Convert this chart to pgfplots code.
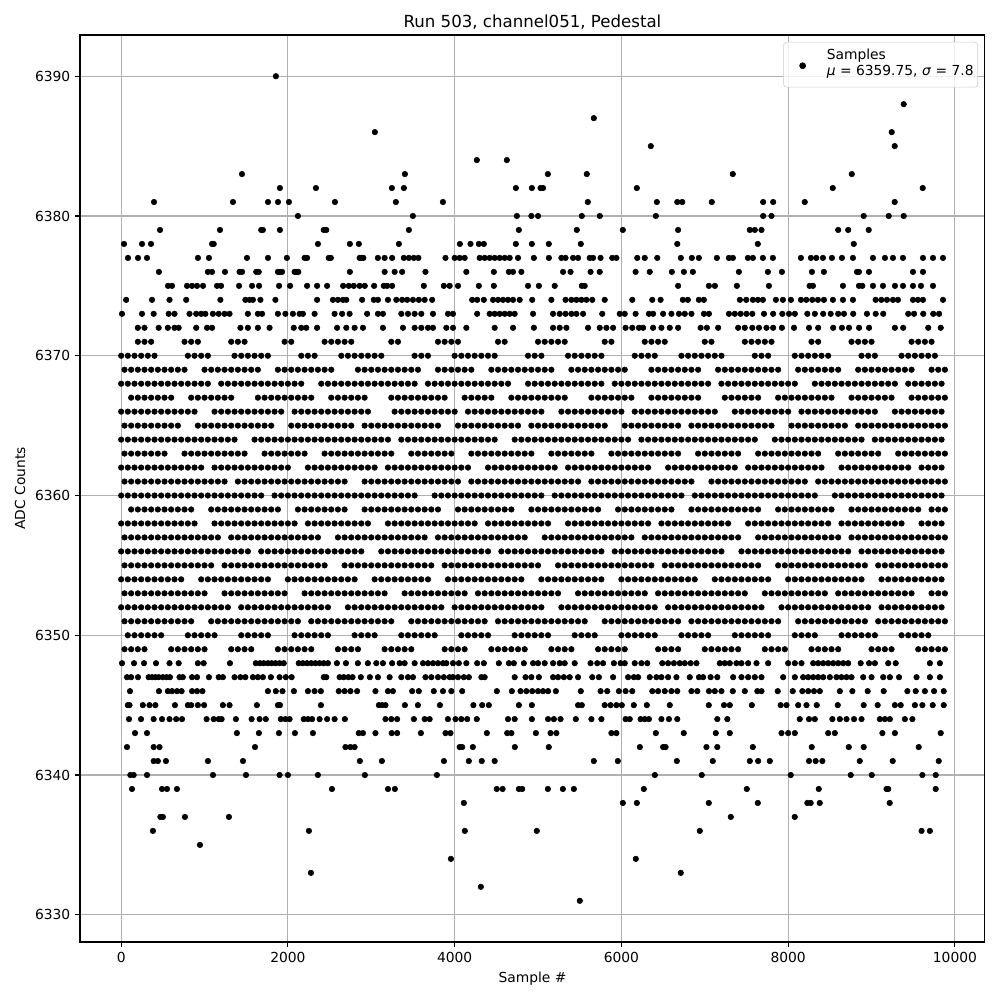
\documentclass[border=0pt]{standalone}
\usepackage{fontspec}
\setmainfont{DejaVu Sans}
\usepackage{pgfplots}
\pgfplotsset{compat=1.18}
\usepackage{pgfplotstable}
\pgfplotstableread{
x y
1856 6390
9386 6388
5669 6387
3043 6386
9242 6386
6353 6385
9278 6385
4266 6384
4626 6384
1449 6383
3403 6383
5118 6383
5585 6383
7336 6383
8763 6383
1904 6382
2336 6382
3247 6382
3391 6382
4734 6382
4926 6382
5030 6382
5060 6382
6185 6382
8535 6382
9614 6382
394 6381
1341 6381
1761 6381
1881 6381
2012 6381
2564 6381
3295 6381
3859 6381
5597 6381
6425 6381
6670 6381
6730 6381
7084 6381
7700 6381
7820 6381
8199 6381
9278 6381
2120 6380
3499 6380
4746 6380
4920 6380
5000 6380
5525 6380
5741 6380
6413 6380
7700 6380
7800 6380
8906 6380
9206 6380
9386 6380
466 6379
1185 6379
1680 6379
1700 6379
1904 6379
2430 6379
2460 6379
3451 6379
4770 6379
5465 6379
6017 6379
6680 6379
7540 6379
7600 6379
7680 6379
8600 6379
8720 6379
8966 6379
34 6378
250 6378
358 6378
1090 6378
1110 6378
2360 6378
2743 6378
2851 6378
3331 6378
4063 6378
4190 6378
4290 6378
4350 6378
4734 6378
4926 6378
5129 6378
5513 6378
6670 6378
7636 6378
8787 6378
82 6377
202 6377
310 6377
921 6377
1053 6377
1509 6377
1761 6377
1988 6377
2200 6377
2230 6377
2490 6377
2515 6377
2860 6377
2880 6377
2905 6377
3079 6377
3160 6377
3250 6377
3390 6377
3450 6377
3510 6377
3565 6377
3890 6377
4000 6377
4060 6377
4120 6377
4300 6377
4360 6377
4420 6377
4480 6377
4540 6377
4600 6377
4660 6377
4760 6377
4950 6377
5130 6377
5280 6377
5330 6377
5420 6377
5480 6377
5620 6377
5660 6377
5750 6377
5890 6377
5940 6377
6190 6377
6280 6377
6430 6377
6713 6377
6845 6377
6929 6377
7145 6377
7289 6377
7337 6377
7517 6377
7577 6377
7697 6377
7817 6377
8153 6377
8273 6377
8337 6377
8417 6377
8525 6377
8645 6377
8777 6377
9017 6377
9161 6377
9257 6377
9377 6377
9617 6377
9737 6377
9857 6377
453 6376
1040 6376
1090 6376
1245 6376
1420 6376
1450 6376
1620 6376
1650 6376
1880 6376
1905 6376
1930 6376
2080 6376
2100 6376
2125 6376
2743 6376
3160 6376
3280 6376
3370 6376
3650 6376
4140 6376
4470 6376
4650 6376
4700 6376
4800 6376
5300 6376
5390 6376
5630 6376
5740 6376
6170 6376
6340 6376
6605 6376
6749 6376
6857 6376
7409 6376
7757 6376
7925 6376
8285 6376
8429 6376
8825 6376
8849 6376
8969 6376
9497 6376
9617 6376
562 6375
610 6375
790 6375
850 6375
910 6375
982 6375
1150 6375
1198 6375
1414 6375
1570 6375
1654 6375
1894 6375
2026 6375
2230 6375
2350 6375
2470 6375
2662 6375
2730 6375
2790 6375
2860 6375
2922 6375
3034 6375
3150 6375
3190 6375
3250 6375
3630 6375
3870 6375
3940 6375
4040 6375
4290 6375
4470 6375
4880 6375
5010 6375
5200 6375
5525 6375
5560 6375
6680 6375
7049 6375
7121 6375
7385 6375
7769 6375
8257 6375
8297 6375
8657 6375
8849 6375
8889 6375
9017 6375
9137 6375
9281 6375
9377 6375
9497 6375
9593 6375
9737 6375
60 6374
370 6374
580 6374
780 6374
1190 6374
1490 6374
1540 6374
1580 6374
1670 6374
1850 6374
2350 6374
2540 6374
2600 6374
2660 6374
2700 6374
2890 6374
3030 6374
3080 6374
3200 6374
3300 6374
3370 6374
3430 6374
3500 6374
3570 6374
3640 6374
3730 6374
4210 6374
4270 6374
4350 6374
4460 6374
4520 6374
4580 6374
4640 6374
4700 6374
4780 6374
4930 6374
5160 6374
5330 6374
5400 6374
5460 6374
5520 6374
5580 6374
5650 6374
5800 6374
6130 6374
6370 6374
6470 6374
6737 6374
6797 6374
6929 6374
6989 6374
7421 6374
7497 6374
7577 6374
7637 6374
7697 6374
7853 6374
7937 6374
8033 6374
8153 6374
8217 6374
8289 6374
8357 6374
8429 6374
8537 6374
8657 6374
8777 6374
9049 6374
9117 6374
9185 6374
9257 6374
9317 6374
9497 6374
9557 6374
9617 6374
9857 6374
10 6373
250 6373
390 6373
570 6373
640 6373
820 6373
900 6373
960 6373
1010 6373
1100 6373
1170 6373
1240 6373
1300 6373
1520 6373
1640 6373
1690 6373
1880 6373
1970 6373
2060 6373
2140 6373
2180 6373
2320 6373
2560 6373
2650 6373
2740 6373
2950 6373
3080 6373
3140 6373
3360 6373
3440 6373
3520 6373
3600 6373
3740 6373
3920 6373
3980 6373
4270 6373
4420 6373
4480 6373
4540 6373
4600 6373
4660 6373
4720 6373
4940 6373
5180 6373
5260 6373
5330 6373
5400 6373
5460 6373
5540 6373
5770 6373
5980 6373
6040 6373
6170 6373
6330 6373
6380 6373
6500 6373
6600 6373
6690 6373
6760 6373
6840 6373
6990 6373
7050 6373
7290 6373
7360 6373
7430 6373
7500 6373
7570 6373
7710 6373
7820 6373
7930 6373
8010 6373
8080 6373
8230 6373
8320 6373
8420 6373
8510 6373
8600 6373
8670 6373
8780 6373
8945 6373
9050 6373
9140 6373
9440 6373
9510 6373
9620 6373
9740 6373
9810 6373
200 6372
280 6372
450 6372
560 6372
640 6372
690 6372
900 6372
1030 6372
1090 6372
1430 6372
1520 6372
1640 6372
1780 6372
2070 6372
2160 6372
2220 6372
2350 6372
2590 6372
2700 6372
2800 6372
2900 6372
3140 6372
3380 6372
3520 6372
3600 6372
3680 6372
3740 6372
3900 6372
3980 6372
4140 6372
4480 6372
4700 6372
4950 6372
5180 6372
5260 6372
5340 6372
5600 6372
5740 6372
5820 6372
5900 6372
6050 6372
6130 6372
6210 6372
6260 6372
6380 6372
6480 6372
6580 6372
6680 6372
6950 6372
7025 6372
7160 6372
7400 6372
7480 6372
7570 6372
7650 6372
7740 6372
7820 6372
7925 6372
8070 6372
8250 6372
8360 6372
8540 6372
8645 6372
8730 6372
8850 6372
8970 6372
9280 6372
9380 6372
9680 6372
9830 6372
}\sparsetop
\pgfplotstableread{
x y
200 6371
280 6371
360 6371
760 6371
840 6371
920 6371
1320 6371
1400 6371
1480 6371
1960 6371
2040 6371
2440 6371
2520 6371
2600 6371
2680 6371
2760 6371
3240 6371
3320 6371
3800 6371
3880 6371
3960 6371
4040 6371
4520 6371
4600 6371
5000 6371
5080 6371
5160 6371
5240 6371
5320 6371
5800 6371
5880 6371
6280 6371
6360 6371
6440 6371
6520 6371
7000 6371
7080 6371
7480 6371
7560 6371
7640 6371
7720 6371
7800 6371
8280 6371
8360 6371
8760 6371
8840 6371
8920 6371
9000 6371
9480 6371
9560 6371
9640 6371
9720 6371
0 6370
80 6370
160 6370
240 6370
320 6370
400 6370
800 6370
880 6370
960 6370
1040 6370
1360 6370
1440 6370
1520 6370
1600 6370
1680 6370
1760 6370
2160 6370
2240 6370
2320 6370
2640 6370
2720 6370
2800 6370
2880 6370
2960 6370
3040 6370
3120 6370
3520 6370
3600 6370
3680 6370
4000 6370
4080 6370
4160 6370
4240 6370
4320 6370
4400 6370
4480 6370
4880 6370
4960 6370
5040 6370
5360 6370
5440 6370
5520 6370
5600 6370
5680 6370
5760 6370
6160 6370
6240 6370
6320 6370
6400 6370
6720 6370
6800 6370
6880 6370
6960 6370
7040 6370
7120 6370
7200 6370
7600 6370
7680 6370
7760 6370
8080 6370
8160 6370
8240 6370
8320 6370
8400 6370
8480 6370
8880 6370
8960 6370
9040 6370
9360 6370
9440 6370
9520 6370
9600 6370
9680 6370
9760 6370
40 6369
120 6369
200 6369
280 6369
360 6369
440 6369
520 6369
600 6369
680 6369
760 6369
1000 6369
1080 6369
1160 6369
1240 6369
1320 6369
1400 6369
1480 6369
1560 6369
1640 6369
1880 6369
1960 6369
2040 6369
2120 6369
2200 6369
2280 6369
2360 6369
2440 6369
2520 6369
2840 6369
2920 6369
3000 6369
3080 6369
3160 6369
3240 6369
3320 6369
3400 6369
3480 6369
3560 6369
3800 6369
3880 6369
3960 6369
4040 6369
4120 6369
4200 6369
4440 6369
4520 6369
4600 6369
4680 6369
4760 6369
4840 6369
4920 6369
5000 6369
5080 6369
5160 6369
5400 6369
5480 6369
5560 6369
5640 6369
5720 6369
5800 6369
5880 6369
5960 6369
6040 6369
6360 6369
6440 6369
6520 6369
6600 6369
6680 6369
6760 6369
6840 6369
6920 6369
7160 6369
7240 6369
7320 6369
7400 6369
7480 6369
7560 6369
7640 6369
7720 6369
7800 6369
7880 6369
8120 6369
8200 6369
8280 6369
8360 6369
8440 6369
8520 6369
8600 6369
8840 6369
8920 6369
9000 6369
9080 6369
9160 6369
9240 6369
9320 6369
9400 6369
9480 6369
9720 6369
9800 6369
9880 6369
0 6368
80 6368
160 6368
240 6368
320 6368
400 6368
480 6368
560 6368
640 6368
720 6368
800 6368
880 6368
960 6368
1040 6368
1200 6368
1280 6368
1360 6368
1440 6368
1520 6368
1600 6368
1680 6368
1760 6368
1840 6368
1920 6368
2000 6368
2080 6368
2160 6368
2400 6368
2480 6368
2560 6368
2640 6368
2720 6368
2800 6368
2880 6368
2960 6368
3040 6368
3120 6368
3200 6368
3280 6368
3360 6368
3440 6368
3520 6368
3680 6368
3760 6368
3840 6368
3920 6368
4000 6368
4080 6368
4160 6368
4240 6368
4320 6368
4400 6368
4480 6368
4560 6368
4640 6368
4880 6368
4960 6368
5040 6368
5120 6368
5200 6368
5280 6368
5360 6368
5440 6368
5520 6368
5600 6368
5680 6368
5760 6368
5920 6368
6000 6368
6080 6368
6160 6368
6240 6368
6320 6368
6400 6368
6480 6368
6560 6368
6640 6368
6720 6368
6800 6368
6880 6368
6960 6368
7040 6368
7200 6368
7280 6368
7360 6368
7440 6368
7520 6368
7600 6368
7680 6368
7760 6368
7840 6368
7920 6368
8000 6368
8080 6368
8320 6368
8400 6368
8480 6368
8560 6368
8640 6368
8720 6368
8800 6368
8880 6368
8960 6368
9040 6368
9120 6368
9200 6368
9280 6368
9440 6368
9520 6368
9600 6368
9680 6368
9760 6368
9840 6368
120 6367
200 6367
280 6367
360 6367
440 6367
520 6367
600 6367
840 6367
920 6367
1000 6367
1080 6367
1160 6367
1240 6367
1320 6367
1640 6367
1720 6367
1800 6367
1880 6367
1960 6367
2040 6367
2120 6367
2200 6367
2280 6367
2520 6367
2600 6367
2680 6367
2760 6367
2840 6367
2920 6367
3240 6367
3320 6367
3400 6367
3480 6367
3560 6367
3640 6367
3720 6367
3800 6367
3880 6367
4120 6367
4200 6367
4280 6367
4360 6367
4440 6367
4680 6367
4760 6367
4840 6367
4920 6367
5000 6367
5080 6367
5160 6367
5240 6367
5320 6367
5640 6367
5720 6367
5800 6367
5880 6367
5960 6367
6040 6367
6120 6367
6360 6367
6440 6367
6520 6367
6600 6367
6680 6367
6760 6367
6840 6367
6920 6367
7240 6367
7320 6367
7400 6367
7480 6367
7560 6367
7640 6367
7880 6367
7960 6367
8040 6367
8120 6367
8200 6367
8280 6367
8360 6367
8440 6367
8520 6367
8760 6367
8840 6367
8920 6367
9000 6367
9080 6367
9160 6367
9240 6367
9480 6367
9560 6367
9640 6367
9720 6367
9800 6367
9880 6367
0 6366
80 6366
160 6366
240 6366
320 6366
400 6366
480 6366
560 6366
640 6366
720 6366
800 6366
880 6366
1120 6366
1200 6366
1280 6366
1360 6366
1440 6366
1520 6366
1600 6366
1680 6366
1760 6366
1840 6366
1920 6366
2080 6366
2160 6366
2240 6366
2320 6366
2400 6366
2480 6366
2560 6366
2640 6366
2720 6366
2800 6366
2880 6366
2960 6366
3280 6366
3360 6366
3440 6366
3520 6366
3600 6366
3680 6366
3760 6366
3840 6366
3920 6366
4000 6366
4160 6366
4240 6366
4320 6366
4400 6366
4480 6366
4560 6366
4640 6366
4720 6366
4800 6366
4880 6366
4960 6366
5040 6366
5280 6366
5360 6366
5440 6366
5520 6366
5600 6366
5680 6366
5760 6366
5840 6366
5920 6366
6000 6366
6160 6366
6240 6366
6320 6366
6400 6366
6480 6366
6560 6366
6640 6366
6720 6366
6800 6366
6880 6366
6960 6366
7040 6366
7120 6366
7360 6366
7440 6366
7520 6366
7600 6366
7680 6366
7760 6366
7840 6366
7920 6366
8000 6366
8160 6366
8240 6366
8320 6366
8400 6366
8480 6366
8560 6366
8640 6366
8720 6366
8800 6366
8880 6366
8960 6366
9040 6366
9280 6366
9360 6366
9440 6366
9520 6366
9600 6366
9680 6366
9760 6366
9840 6366
40 6365
120 6365
200 6365
280 6365
360 6365
440 6365
520 6365
600 6365
680 6365
920 6365
1000 6365
1080 6365
1160 6365
1240 6365
1320 6365
1400 6365
1480 6365
1560 6365
1640 6365
1720 6365
1800 6365
2040 6365
2120 6365
2200 6365
2280 6365
2360 6365
2440 6365
2520 6365
2600 6365
2680 6365
2760 6365
2920 6365
3000 6365
3080 6365
3160 6365
3240 6365
3320 6365
3400 6365
3480 6365
3560 6365
3640 6365
3720 6365
3800 6365
4040 6365
4120 6365
4200 6365
4280 6365
4360 6365
4440 6365
4520 6365
4600 6365
4680 6365
4760 6365
4920 6365
5000 6365
5080 6365
5160 6365
5240 6365
5320 6365
5400 6365
5480 6365
5560 6365
5640 6365
5720 6365
5800 6365
6040 6365
6120 6365
6200 6365
6280 6365
6360 6365
6440 6365
6520 6365
6600 6365
6680 6365
6840 6365
6920 6365
7000 6365
7080 6365
7160 6365
7240 6365
7320 6365
7400 6365
7480 6365
7560 6365
7640 6365
7720 6365
7800 6365
8040 6365
8120 6365
8200 6365
8280 6365
8360 6365
8440 6365
8520 6365
8600 6365
8680 6365
8840 6365
8920 6365
9000 6365
9080 6365
9160 6365
9240 6365
9320 6365
9400 6365
9480 6365
9560 6365
9640 6365
9720 6365
9800 6365
9880 6365
}\densetop
\pgfplotstableread{
x y
0 6364
80 6364
160 6364
240 6364
320 6364
400 6364
480 6364
560 6364
640 6364
720 6364
800 6364
880 6364
960 6364
1040 6364
1120 6364
1200 6364
1280 6364
1360 6364
1600 6364
1680 6364
1760 6364
1840 6364
1920 6364
2000 6364
2080 6364
2160 6364
2240 6364
2320 6364
2400 6364
2480 6364
2560 6364
2640 6364
2720 6364
2800 6364
2880 6364
2960 6364
3040 6364
3120 6364
3200 6364
3360 6364
3440 6364
3520 6364
3600 6364
3680 6364
3760 6364
3840 6364
3920 6364
4000 6364
4080 6364
4160 6364
4240 6364
4320 6364
4400 6364
4480 6364
4720 6364
4800 6364
4880 6364
4960 6364
5040 6364
5120 6364
5200 6364
5280 6364
5360 6364
5440 6364
5520 6364
5600 6364
5680 6364
5760 6364
5840 6364
5920 6364
6000 6364
6080 6364
6240 6364
6320 6364
6400 6364
6480 6364
6560 6364
6640 6364
6720 6364
6800 6364
6880 6364
6960 6364
7040 6364
7120 6364
7200 6364
7280 6364
7360 6364
7440 6364
7520 6364
7600 6364
7840 6364
7920 6364
8000 6364
8080 6364
8160 6364
8240 6364
8320 6364
8400 6364
8480 6364
8560 6364
8640 6364
8720 6364
8800 6364
8880 6364
9040 6364
9120 6364
9200 6364
9280 6364
9360 6364
9440 6364
9520 6364
9600 6364
9680 6364
9760 6364
9840 6364
40 6363
120 6363
200 6363
280 6363
360 6363
440 6363
520 6363
760 6363
840 6363
920 6363
1000 6363
1080 6363
1160 6363
1240 6363
1320 6363
1400 6363
1480 6363
1720 6363
1800 6363
1880 6363
1960 6363
2040 6363
2120 6363
2200 6363
2440 6363
2520 6363
2600 6363
2680 6363
2760 6363
2840 6363
2920 6363
3000 6363
3080 6363
3160 6363
3240 6363
3480 6363
3560 6363
3640 6363
3720 6363
3800 6363
3880 6363
3960 6363
4200 6363
4280 6363
4360 6363
4440 6363
4520 6363
4600 6363
4680 6363
4760 6363
4840 6363
4920 6363
5160 6363
5240 6363
5320 6363
5400 6363
5480 6363
5560 6363
5640 6363
5880 6363
5960 6363
6040 6363
6120 6363
6200 6363
6280 6363
6360 6363
6440 6363
6520 6363
6600 6363
6680 6363
6920 6363
7000 6363
7080 6363
7160 6363
7240 6363
7320 6363
7400 6363
7640 6363
7720 6363
7800 6363
7880 6363
7960 6363
8040 6363
8120 6363
8200 6363
8280 6363
8360 6363
8600 6363
8680 6363
8760 6363
8840 6363
8920 6363
9000 6363
9080 6363
9320 6363
9400 6363
9480 6363
9560 6363
9640 6363
9720 6363
9800 6363
9880 6363
0 6362
80 6362
160 6362
240 6362
320 6362
400 6362
480 6362
560 6362
640 6362
720 6362
800 6362
880 6362
960 6362
1120 6362
1200 6362
1280 6362
1360 6362
1440 6362
1520 6362
1600 6362
1680 6362
1760 6362
1840 6362
1920 6362
2000 6362
2240 6362
2320 6362
2400 6362
2480 6362
2560 6362
2640 6362
2720 6362
2800 6362
2880 6362
2960 6362
3040 6362
3200 6362
3280 6362
3360 6362
3440 6362
3520 6362
3600 6362
3680 6362
3760 6362
3840 6362
3920 6362
4000 6362
4080 6362
4160 6362
4400 6362
4480 6362
4560 6362
4640 6362
4720 6362
4800 6362
4880 6362
4960 6362
5040 6362
5120 6362
5200 6362
5360 6362
5440 6362
5520 6362
5600 6362
5680 6362
5760 6362
5840 6362
5920 6362
6000 6362
6080 6362
6160 6362
6240 6362
6320 6362
6560 6362
6640 6362
6720 6362
6800 6362
6880 6362
6960 6362
7040 6362
7120 6362
7200 6362
7280 6362
7360 6362
7520 6362
7600 6362
7680 6362
7760 6362
7840 6362
7920 6362
8000 6362
8080 6362
8160 6362
8240 6362
8320 6362
8400 6362
8640 6362
8720 6362
8800 6362
8880 6362
8960 6362
9040 6362
9120 6362
9200 6362
9280 6362
9360 6362
9440 6362
9600 6362
9680 6362
9760 6362
9840 6362
40 6361
120 6361
200 6361
280 6361
360 6361
440 6361
520 6361
600 6361
680 6361
760 6361
840 6361
920 6361
1000 6361
1080 6361
1160 6361
1240 6361
1400 6361
1480 6361
1560 6361
1640 6361
1720 6361
1800 6361
1880 6361
1960 6361
2040 6361
2120 6361
2200 6361
2280 6361
2360 6361
2440 6361
2520 6361
2600 6361
2680 6361
2920 6361
3000 6361
3080 6361
3160 6361
3240 6361
3320 6361
3400 6361
3480 6361
3560 6361
3640 6361
3720 6361
3800 6361
3880 6361
3960 6361
4040 6361
4200 6361
4280 6361
4360 6361
4440 6361
4520 6361
4600 6361
4680 6361
4760 6361
4840 6361
4920 6361
5000 6361
5080 6361
5160 6361
5240 6361
5320 6361
5400 6361
5480 6361
5640 6361
5720 6361
5800 6361
5880 6361
5960 6361
6040 6361
6120 6361
6200 6361
6280 6361
6360 6361
6440 6361
6520 6361
6600 6361
6680 6361
6760 6361
6840 6361
7080 6361
7160 6361
7240 6361
7320 6361
7400 6361
7480 6361
7560 6361
7640 6361
7720 6361
7800 6361
7880 6361
7960 6361
8040 6361
8120 6361
8200 6361
8360 6361
8440 6361
8520 6361
8600 6361
8680 6361
8760 6361
8840 6361
8920 6361
9000 6361
9080 6361
9160 6361
9240 6361
9320 6361
9400 6361
9480 6361
9560 6361
9640 6361
9720 6361
9800 6361
9880 6361
0 6360
80 6360
160 6360
240 6360
320 6360
400 6360
480 6360
560 6360
640 6360
720 6360
800 6360
880 6360
960 6360
1040 6360
1120 6360
1200 6360
1280 6360
1360 6360
1440 6360
1520 6360
1600 6360
1680 6360
1840 6360
1920 6360
2000 6360
2080 6360
2160 6360
2240 6360
2320 6360
2400 6360
2480 6360
2560 6360
2640 6360
2720 6360
2800 6360
2880 6360
2960 6360
3040 6360
3120 6360
3200 6360
3280 6360
3360 6360
3440 6360
3520 6360
3760 6360
3840 6360
3920 6360
4000 6360
4080 6360
4160 6360
4240 6360
4320 6360
4400 6360
4480 6360
4560 6360
4640 6360
4720 6360
4800 6360
4880 6360
4960 6360
5040 6360
5200 6360
5280 6360
5360 6360
5440 6360
5520 6360
5600 6360
5680 6360
5760 6360
5840 6360
5920 6360
6000 6360
6080 6360
6160 6360
6240 6360
6320 6360
6400 6360
6480 6360
6560 6360
6640 6360
6720 6360
6880 6360
6960 6360
7040 6360
7120 6360
7200 6360
7280 6360
7360 6360
7440 6360
7520 6360
7600 6360
7680 6360
7760 6360
7840 6360
7920 6360
8000 6360
8080 6360
8160 6360
8240 6360
8320 6360
8560 6360
8640 6360
8720 6360
8800 6360
8880 6360
8960 6360
9040 6360
9120 6360
9200 6360
9280 6360
9360 6360
9440 6360
9520 6360
9600 6360
9680 6360
9760 6360
9840 6360
120 6359
200 6359
280 6359
360 6359
440 6359
520 6359
600 6359
680 6359
760 6359
840 6359
1080 6359
1160 6359
1240 6359
1320 6359
1400 6359
1480 6359
1560 6359
1640 6359
1720 6359
1800 6359
1880 6359
2120 6359
2200 6359
2280 6359
2360 6359
2440 6359
2520 6359
2600 6359
2680 6359
2920 6359
3000 6359
3080 6359
3160 6359
3240 6359
3320 6359
3400 6359
3480 6359
3560 6359
3640 6359
3720 6359
3800 6359
4040 6359
4120 6359
4200 6359
4280 6359
4360 6359
4440 6359
4520 6359
4600 6359
4680 6359
4920 6359
5000 6359
5080 6359
5160 6359
5240 6359
5320 6359
5400 6359
5480 6359
5560 6359
5640 6359
5720 6359
5960 6359
6040 6359
6120 6359
6200 6359
6280 6359
6360 6359
6440 6359
6520 6359
6600 6359
6840 6359
6920 6359
7000 6359
7080 6359
7160 6359
7240 6359
7320 6359
7400 6359
7480 6359
7560 6359
7640 6359
7880 6359
7960 6359
8040 6359
8120 6359
8200 6359
8280 6359
8360 6359
8440 6359
8520 6359
8760 6359
8840 6359
8920 6359
9000 6359
9080 6359
9160 6359
9240 6359
9320 6359
9400 6359
9480 6359
9560 6359
9720 6359
9800 6359
9880 6359
0 6358
80 6358
160 6358
240 6358
320 6358
400 6358
480 6358
560 6358
640 6358
720 6358
800 6358
880 6358
1120 6358
1200 6358
1280 6358
1360 6358
1440 6358
1520 6358
1600 6358
1680 6358
1760 6358
1840 6358
1920 6358
2000 6358
2080 6358
2240 6358
2320 6358
2400 6358
2480 6358
2560 6358
2640 6358
2720 6358
2800 6358
2880 6358
2960 6358
3200 6358
3280 6358
3360 6358
3440 6358
3520 6358
3600 6358
3680 6358
3760 6358
3840 6358
3920 6358
4000 6358
4080 6358
4160 6358
4240 6358
4400 6358
4480 6358
4560 6358
4640 6358
4720 6358
4800 6358
4880 6358
4960 6358
5040 6358
5120 6358
5360 6358
5440 6358
5520 6358
5600 6358
5680 6358
5760 6358
5840 6358
5920 6358
6000 6358
6080 6358
6160 6358
6240 6358
6320 6358
6480 6358
6560 6358
6640 6358
6720 6358
6800 6358
6880 6358
6960 6358
7040 6358
7120 6358
7200 6358
7280 6358
7520 6358
7600 6358
7680 6358
7760 6358
7840 6358
7920 6358
8000 6358
8080 6358
8160 6358
8240 6358
8320 6358
8400 6358
8480 6358
8640 6358
8720 6358
8800 6358
8880 6358
8960 6358
9040 6358
9120 6358
9200 6358
9280 6358
9360 6358
9600 6358
9680 6358
9760 6358
9840 6358
}\densemid
\pgfplotstableread{
x y
40 6357
120 6357
200 6357
280 6357
360 6357
440 6357
520 6357
600 6357
680 6357
760 6357
840 6357
920 6357
1000 6357
1080 6357
1160 6357
1320 6357
1400 6357
1480 6357
1560 6357
1640 6357
1720 6357
1800 6357
1880 6357
1960 6357
2040 6357
2120 6357
2200 6357
2280 6357
2360 6357
2600 6357
2680 6357
2760 6357
2840 6357
2920 6357
3000 6357
3080 6357
3160 6357
3240 6357
3320 6357
3400 6357
3480 6357
3560 6357
3640 6357
3800 6357
3880 6357
3960 6357
4040 6357
4120 6357
4200 6357
4280 6357
4360 6357
4440 6357
4520 6357
4600 6357
4680 6357
4760 6357
4840 6357
5080 6357
5160 6357
5240 6357
5320 6357
5400 6357
5480 6357
5560 6357
5640 6357
5720 6357
5800 6357
5880 6357
5960 6357
6040 6357
6120 6357
6280 6357
6360 6357
6440 6357
6520 6357
6600 6357
6680 6357
6760 6357
6840 6357
6920 6357
7000 6357
7080 6357
7160 6357
7240 6357
7320 6357
7400 6357
7640 6357
7720 6357
7800 6357
7880 6357
7960 6357
8040 6357
8120 6357
8200 6357
8280 6357
8360 6357
8440 6357
8520 6357
8600 6357
8760 6357
8840 6357
8920 6357
9000 6357
9080 6357
9160 6357
9240 6357
9320 6357
9400 6357
9480 6357
9560 6357
9640 6357
9720 6357
9800 6357
9880 6357
0 6356
80 6356
160 6356
240 6356
320 6356
400 6356
480 6356
560 6356
640 6356
720 6356
800 6356
880 6356
960 6356
1040 6356
1120 6356
1200 6356
1280 6356
1360 6356
1440 6356
1520 6356
1680 6356
1760 6356
1840 6356
1920 6356
2000 6356
2080 6356
2160 6356
2240 6356
2320 6356
2400 6356
2480 6356
2560 6356
2640 6356
2720 6356
2800 6356
2880 6356
3120 6356
3200 6356
3280 6356
3360 6356
3440 6356
3520 6356
3600 6356
3680 6356
3760 6356
3840 6356
3920 6356
4000 6356
4080 6356
4160 6356
4240 6356
4320 6356
4400 6356
4560 6356
4640 6356
4720 6356
4800 6356
4880 6356
4960 6356
5040 6356
5120 6356
5200 6356
5280 6356
5360 6356
5440 6356
5520 6356
5600 6356
5680 6356
5760 6356
5920 6356
6000 6356
6080 6356
6160 6356
6240 6356
6320 6356
6400 6356
6480 6356
6560 6356
6640 6356
6720 6356
6800 6356
6880 6356
6960 6356
7040 6356
7120 6356
7200 6356
7440 6356
7520 6356
7600 6356
7680 6356
7760 6356
7840 6356
7920 6356
8000 6356
8080 6356
8160 6356
8240 6356
8320 6356
8400 6356
8480 6356
8560 6356
8640 6356
8720 6356
8880 6356
8960 6356
9040 6356
9120 6356
9200 6356
9280 6356
9360 6356
9440 6356
9520 6356
9600 6356
9680 6356
9760 6356
9840 6356
40 6355
120 6355
200 6355
280 6355
360 6355
440 6355
520 6355
600 6355
680 6355
760 6355
840 6355
920 6355
1000 6355
1080 6355
1240 6355
1320 6355
1400 6355
1480 6355
1560 6355
1640 6355
1720 6355
1800 6355
1880 6355
1960 6355
2040 6355
2120 6355
2200 6355
2280 6355
2360 6355
2440 6355
2680 6355
2760 6355
2840 6355
2920 6355
3000 6355
3080 6355
3160 6355
3240 6355
3320 6355
3400 6355
3480 6355
3560 6355
3640 6355
3720 6355
3880 6355
3960 6355
4040 6355
4120 6355
4200 6355
4280 6355
4360 6355
4440 6355
4520 6355
4600 6355
4680 6355
4760 6355
4840 6355
4920 6355
5000 6355
5240 6355
5320 6355
5400 6355
5480 6355
5560 6355
5640 6355
5720 6355
5800 6355
5880 6355
5960 6355
6040 6355
6120 6355
6200 6355
6280 6355
6360 6355
6520 6355
6600 6355
6680 6355
6760 6355
6840 6355
6920 6355
7000 6355
7080 6355
7160 6355
7240 6355
7320 6355
7400 6355
7480 6355
7560 6355
7640 6355
7880 6355
7960 6355
8040 6355
8120 6355
8200 6355
8280 6355
8360 6355
8440 6355
8520 6355
8600 6355
8680 6355
8760 6355
8840 6355
8920 6355
9080 6355
9160 6355
9240 6355
9320 6355
9400 6355
9480 6355
9560 6355
9640 6355
9720 6355
9800 6355
9880 6355
0 6354
80 6354
160 6354
240 6354
320 6354
400 6354
480 6354
560 6354
640 6354
720 6354
960 6354
1040 6354
1120 6354
1200 6354
1280 6354
1360 6354
1440 6354
1520 6354
1600 6354
1680 6354
1760 6354
2000 6354
2080 6354
2160 6354
2240 6354
2320 6354
2400 6354
2480 6354
2560 6354
2640 6354
2720 6354
2800 6354
3040 6354
3120 6354
3200 6354
3280 6354
3360 6354
3440 6354
3520 6354
3600 6354
3680 6354
3920 6354
4000 6354
4080 6354
4160 6354
4240 6354
4320 6354
4400 6354
4480 6354
4560 6354
4640 6354
4720 6354
4800 6354
5040 6354
5120 6354
5200 6354
5280 6354
5360 6354
5440 6354
5520 6354
5600 6354
5680 6354
5760 6354
6000 6354
6080 6354
6160 6354
6240 6354
6320 6354
6400 6354
6480 6354
6560 6354
6640 6354
6720 6354
6800 6354
6880 6354
7120 6354
7200 6354
7280 6354
7360 6354
7440 6354
7520 6354
7600 6354
7680 6354
7760 6354
8000 6354
8080 6354
8160 6354
8240 6354
8320 6354
8400 6354
8480 6354
8560 6354
8640 6354
8720 6354
8800 6354
8880 6354
9120 6354
9200 6354
9280 6354
9360 6354
9440 6354
9520 6354
9600 6354
9680 6354
9760 6354
9840 6354
40 6353
120 6353
200 6353
280 6353
360 6353
440 6353
520 6353
600 6353
680 6353
760 6353
840 6353
920 6353
1000 6353
1240 6353
1320 6353
1400 6353
1480 6353
1560 6353
1640 6353
1720 6353
1800 6353
1880 6353
1960 6353
2200 6353
2280 6353
2360 6353
2440 6353
2520 6353
2600 6353
2680 6353
2760 6353
2840 6353
2920 6353
3000 6353
3080 6353
3160 6353
3400 6353
3480 6353
3560 6353
3640 6353
3720 6353
3800 6353
3880 6353
3960 6353
4040 6353
4120 6353
4280 6353
4360 6353
4440 6353
4520 6353
4600 6353
4680 6353
4760 6353
4840 6353
4920 6353
5000 6353
5080 6353
5160 6353
5240 6353
5480 6353
5560 6353
5640 6353
5720 6353
5800 6353
5880 6353
5960 6353
6040 6353
6120 6353
6200 6353
6280 6353
6440 6353
6520 6353
6600 6353
6680 6353
6760 6353
6840 6353
6920 6353
7000 6353
7080 6353
7160 6353
7240 6353
7320 6353
7400 6353
7480 6353
7720 6353
7800 6353
7880 6353
7960 6353
8040 6353
8120 6353
8200 6353
8280 6353
8360 6353
8440 6353
8600 6353
8680 6353
8760 6353
8840 6353
8920 6353
9000 6353
9080 6353
9160 6353
9240 6353
9320 6353
9400 6353
9480 6353
9720 6353
9800 6353
9880 6353
}\denselow
\pgfplotstableread{
x y
0 6352
80 6352
160 6352
240 6352
320 6352
400 6352
480 6352
560 6352
640 6352
720 6352
800 6352
880 6352
960 6352
1040 6352
1120 6352
1200 6352
1280 6352
1440 6352
1520 6352
1600 6352
1680 6352
1760 6352
1840 6352
1920 6352
2000 6352
2080 6352
2160 6352
2240 6352
2320 6352
2400 6352
2480 6352
2720 6352
2800 6352
2880 6352
2960 6352
3040 6352
3120 6352
3200 6352
3280 6352
3360 6352
3440 6352
3520 6352
3600 6352
3680 6352
3760 6352
3840 6352
4000 6352
4080 6352
4160 6352
4240 6352
4320 6352
4400 6352
4480 6352
4560 6352
4640 6352
4720 6352
4800 6352
4880 6352
4960 6352
5040 6352
5280 6352
5360 6352
5440 6352
5520 6352
5600 6352
5680 6352
5760 6352
5840 6352
5920 6352
6000 6352
6080 6352
6160 6352
6240 6352
6320 6352
6400 6352
6560 6352
6640 6352
6720 6352
6800 6352
6880 6352
6960 6352
7040 6352
7120 6352
7200 6352
7280 6352
7360 6352
7440 6352
7520 6352
7600 6352
7680 6352
7920 6352
8000 6352
8080 6352
8160 6352
8240 6352
8320 6352
8400 6352
8480 6352
8560 6352
8640 6352
8720 6352
8800 6352
8880 6352
8960 6352
9120 6352
9200 6352
9280 6352
9360 6352
9440 6352
9520 6352
9600 6352
9680 6352
9760 6352
9840 6352
40 6351
120 6351
200 6351
280 6351
360 6351
440 6351
520 6351
600 6351
680 6351
760 6351
840 6351
1080 6351
1160 6351
1240 6351
1320 6351
1400 6351
1480 6351
1560 6351
1640 6351
1720 6351
1800 6351
1880 6351
1960 6351
2040 6351
2120 6351
2280 6351
2360 6351
2440 6351
2520 6351
2600 6351
2680 6351
2760 6351
2840 6351
2920 6351
3000 6351
3080 6351
3160 6351
3240 6351
3480 6351
3560 6351
3640 6351
3720 6351
3800 6351
3880 6351
3960 6351
4040 6351
4120 6351
4200 6351
4280 6351
4360 6351
4520 6351
4600 6351
4680 6351
4760 6351
4840 6351
4920 6351
5000 6351
5080 6351
5160 6351
5240 6351
5320 6351
5400 6351
5480 6351
5560 6351
5800 6351
5880 6351
5960 6351
6040 6351
6120 6351
6200 6351
6280 6351
6360 6351
6440 6351
6520 6351
6600 6351
6680 6351
6840 6351
6920 6351
7000 6351
7080 6351
7160 6351
7240 6351
7320 6351
7400 6351
7480 6351
7560 6351
7640 6351
7720 6351
7800 6351
7880 6351
8120 6351
8200 6351
8280 6351
8360 6351
8440 6351
8520 6351
8600 6351
8680 6351
8760 6351
8840 6351
8920 6351
9080 6351
9160 6351
9240 6351
9320 6351
9400 6351
9480 6351
9560 6351
9640 6351
9720 6351
9800 6351
9880 6351
80 6350
160 6350
240 6350
320 6350
400 6350
480 6350
800 6350
880 6350
960 6350
1040 6350
1120 6350
1440 6350
1520 6350
1600 6350
1680 6350
1760 6350
2080 6350
2160 6350
2240 6350
2320 6350
2400 6350
2480 6350
2800 6350
2880 6350
2960 6350
3040 6350
3360 6350
3440 6350
3520 6350
3600 6350
3680 6350
3760 6350
4080 6350
4160 6350
4240 6350
4320 6350
4400 6350
4720 6350
4800 6350
4880 6350
4960 6350
5040 6350
5120 6350
5440 6350
5520 6350
5600 6350
5680 6350
6000 6350
6080 6350
6160 6350
6240 6350
6320 6350
6400 6350
6720 6350
6800 6350
6880 6350
6960 6350
7040 6350
7360 6350
7440 6350
7520 6350
7600 6350
7680 6350
7760 6350
8080 6350
8160 6350
8240 6350
8320 6350
8640 6350
8720 6350
8800 6350
8880 6350
8960 6350
9040 6350
9360 6350
9440 6350
9520 6350
9600 6350
9680 6350
40 6349
120 6349
200 6349
280 6349
600 6349
680 6349
760 6349
840 6349
920 6349
1000 6349
1320 6349
1400 6349
1480 6349
1560 6349
1880 6349
1960 6349
2040 6349
2120 6349
2200 6349
2280 6349
2600 6349
2680 6349
2760 6349
2840 6349
3160 6349
3240 6349
3320 6349
3400 6349
3480 6349
3880 6349
3960 6349
4040 6349
4120 6349
4440 6349
4520 6349
4600 6349
4680 6349
4760 6349
4840 6349
5160 6349
5240 6349
5320 6349
5400 6349
5720 6349
5800 6349
5880 6349
5960 6349
6040 6349
6440 6349
6520 6349
6600 6349
6680 6349
7000 6349
7080 6349
7160 6349
7240 6349
7320 6349
7400 6349
7720 6349
7800 6349
7880 6349
7960 6349
8280 6349
8360 6349
8440 6349
8520 6349
8600 6349
9000 6349
9080 6349
9160 6349
9240 6349
9560 6349
9640 6349
9720 6349
9800 6349
9880 6349
}\densebot
\pgfplotstableread{
x y
10 6348
154 6348
274 6348
418 6348
580 6348
690 6348
920 6348
990 6348
1305 6348
1615 6348
1665 6348
1710 6348
1760 6348
1805 6348
1850 6348
1900 6348
1950 6348
2130 6348
2180 6348
2230 6348
2280 6348
2330 6348
2380 6348
2430 6348
2480 6348
2588 6348
2696 6348
2839 6348
2959 6348
3060 6348
3140 6348
3250 6348
3340 6348
3400 6348
3520 6348
3620 6348
3680 6348
3740 6348
3800 6348
3860 6348
3900 6348
3980 6348
4050 6348
4140 6348
4270 6348
4350 6348
4530 6348
4650 6348
4710 6348
4830 6348
4940 6348
5000 6348
5080 6348
5180 6348
5260 6348
5320 6348
5440 6348
5630 6348
5710 6348
5780 6348
5910 6348
5990 6348
6040 6348
6160 6348
6240 6348
6310 6348
6490 6348
6560 6348
6630 6348
6700 6348
6760 6348
6830 6348
6900 6348
7180 6348
7240 6348
7300 6348
7380 6348
7440 6348
7520 6348
7620 6348
7760 6348
8000 6348
8080 6348
8160 6348
8300 6348
8360 6348
8420 6348
8480 6348
8540 6348
8600 6348
8660 6348
8720 6348
8870 6348
8970 6348
9040 6348
9200 6348
9290 6348
9700 6348
9820 6348
70 6347
120 6347
202 6347
330 6347
370 6347
410 6347
450 6347
500 6347
545 6347
585 6347
700 6347
740 6347
850 6347
910 6347
1053 6347
1170 6347
1220 6347
1360 6347
1430 6347
1490 6347
1580 6347
1640 6347
1700 6347
1796 6347
1900 6347
1975 6347
2045 6347
2430 6347
2460 6347
2620 6347
2670 6347
2725 6347
2775 6347
2875 6347
2983 6347
3080 6347
3220 6347
3360 6347
3440 6347
3500 6347
3650 6347
3720 6347
3800 6347
3870 6347
3940 6347
3980 6347
4040 6347
4110 6347
4170 6347
4320 6347
4360 6347
4720 6347
4850 6347
4920 6347
5010 6347
5180 6347
5240 6347
5310 6347
5380 6347
5480 6347
5650 6347
5730 6347
5900 6347
6080 6347
6150 6347
6200 6347
6340 6347
6420 6347
6480 6347
6560 6347
6660 6347
6820 6347
6930 6347
6980 6347
7070 6347
7150 6347
7340 6347
7440 6347
7520 6347
7600 6347
7680 6347
7940 6347
8080 6347
8180 6347
8240 6347
8300 6347
8360 6347
8420 6347
8500 6347
8580 6347
8640 6347
8700 6347
8760 6347
8900 6347
9000 6347
9140 6347
9220 6347
9330 6347
9540 6347
9700 6347
9820 6347
106 6346
453 6346
560 6346
610 6346
670 6346
725 6346
850 6346
910 6346
975 6346
1760 6346
1855 6346
1935 6346
2072 6346
2240 6346
2320 6346
2395 6346
2610 6346
2680 6346
2750 6346
2830 6346
3050 6346
3200 6346
3260 6346
3490 6346
3570 6346
3750 6346
3860 6346
3960 6346
4090 6346
4506 6346
4686 6346
4790 6346
4860 6346
4930 6346
5000 6346
5060 6346
5120 6346
5214 6346
5513 6346
5750 6346
5830 6346
5970 6346
6050 6346
6130 6346
6370 6346
6440 6346
6520 6346
6600 6346
6670 6346
6840 6346
6910 6346
7050 6346
7120 6346
7200 6346
7336 6346
7480 6346
7630 6346
7680 6346
7875 6346
8055 6346
8170 6346
8240 6346
8310 6346
8380 6346
8620 6346
8770 6346
8954 6346
9146 6346
9430 6346
9530 6346
9640 6346
9750 6346
9866 6346
80 6345
100 6345
260 6345
340 6345
410 6345
645 6345
800 6345
840 6345
920 6345
995 6345
1220 6345
1300 6345
1628 6345
1880 6345
1905 6345
2396 6345
3091 6345
3130 6345
3170 6345
3403 6345
3559 6345
3823 6345
4225 6345
4330 6345
4410 6345
4770 6345
4926 6345
5480 6345
5525 6345
5800 6345
5870 6345
5940 6345
6005 6345
6149 6345
6305 6345
6580 6345
7048 6345
7230 6345
7300 6345
7564 6345
7910 6345
7980 6345
8120 6345
8220 6345
8343 6345
8595 6345
8906 6345
9074 6345
9280 6345
9350 6345
9520 6345
9610 6345
9734 6345
9866 6345
94 6344
238 6344
390 6344
490 6344
580 6344
660 6344
730 6344
1025 6344
1110 6344
1170 6344
1205 6344
1376 6344
1565 6344
1660 6344
1735 6344
1915 6344
1970 6344
2020 6344
2190 6344
2240 6344
2290 6344
2380 6344
2470 6344
2560 6344
2683 6344
3170 6344
3240 6344
3310 6344
3511 6344
3640 6344
3700 6344
3919 6344
4010 6344
4080 6344
4150 6344
4266 6344
4640 6344
4720 6344
4926 6344
5120 6344
5190 6344
5270 6344
5453 6344
5640 6344
5760 6344
6050 6344
6100 6344
6230 6344
6280 6344
6330 6344
6480 6344
6570 6344
6670 6344
7150 6344
7270 6344
8139 6344
8250 6344
8320 6344
8530 6344
8620 6344
8700 6344
8790 6344
8880 6344
9100 6344
9160 6344
9220 6344
9400 6344
9490 6344
166 6343
310 6343
1388 6343
1652 6343
1892 6343
2084 6343
2300 6343
2850 6343
2900 6343
3050 6343
3245 6343
3310 6343
3595 6343
3890 6343
3950 6343
4386 6343
4630 6343
4680 6343
4974 6343
5150 6343
5220 6343
5880 6343
5940 6343
6413 6343
6748 6343
7132 6343
7300 6343
7920 6343
8000 6343
8080 6343
8480 6343
8560 6343
9130 6343
9280 6343
9830 6343
70 6342
390 6342
460 6342
1605 6342
2690 6342
2750 6342
2800 6342
4060 6342
4090 6342
4218 6342
4722 6342
5129 6342
6221 6342
6500 6342
6530 6342
7020 6342
7150 6342
7576 6342
8283 6342
8727 6342
8906 6342
9566 6342
390 6341
440 6341
537 6341
1041 6341
1461 6341
2863 6341
3127 6341
3871 6341
4170 6341
4325 6341
4480 6341
5669 6341
5957 6341
6665 6341
7096 6341
7540 6341
7640 6341
7780 6341
8250 6341
8330 6341
8410 6341
8859 6341
9254 6341
9806 6341
110 6340
150 6340
310 6340
1101 6340
1497 6340
1900 6340
2000 6340
2360 6340
2923 6340
3787 6340
6401 6340
6964 6340
8031 6340
8751 6340
9003 6340
9610 6340
9770 6340
130 6339
490 6339
550 6339
669 6339
2528 6339
3200 6339
3283 6339
4505 6339
4575 6339
4770 6339
4810 6339
5118 6339
5298 6339
5430 6339
6269 6339
7504 6339
8367 6339
9180 6339
9200 6339
9770 6339
4110 6338
6017 6338
6185 6338
7048 6338
7636 6338
8230 6338
8270 6338
8379 6338
9218 6338
470 6337
500 6337
765 6337
1293 6337
7312 6337
8079 6337
381 6336
2252 6336
4122 6336
4985 6336
6940 6336
9600 6336
9700 6336
945 6335
3955 6334
6173 6334
2276 6333
6712 6333
4314 6332
5501 6331
}\sparsebot
\begin{document}
\begin{tikzpicture}
\useasboundingbox (-57.8pt,-41.9pt) rectangle (664.8pt,680.8pt);
\begin{axis}[
  at={(0pt,0pt)}, anchor=south west,
  scale only axis, width=654.0pt, height=655.5pt,
  xmin=-494, xmax=10360, ymin=6328.05, ymax=6392.95,
  xtick={0,2000,4000,6000,8000,10000},
  ytick={6330,6340,6350,6360,6370,6380,6390},
  scaled ticks=false,
  /pgf/number format/1000 sep={},
  /pgf/number format/assume math mode=true,
  tick pos=left, tick align=outside, major tick length=3.5pt,
  tick style={black, line width=0.8pt},
  axis line style={line width=0.8pt},
  grid=major, major grid style={color=black!31, line width=0.8pt},
  tick label style={font=\fontsize{10}{12}\selectfont},
  label style={font=\fontsize{10}{12}\selectfont},
  xlabel={Sample \#}, ylabel={ADC Counts},
  xlabel style={at={(axis description cs:0.5,-0.0441)}, anchor=base},
  ylabel style={at={(axis description cs:-0.0607,0.5)}, anchor=base},
  title={Run 503, channel051, Pedestal},
  title style={font=\fontsize{12}{14}\selectfont, at={(axis description cs:0.5,1)}, anchor=base, yshift=-0.6pt},
  legend style={at={(axis description cs:1,1)}, anchor=north east, xshift=-5pt, yshift=-5pt,
    draw=black!20, rounded corners=2pt, fill=white, fill opacity=0.8, text opacity=1,
    font=\fontsize{10}{11.6}\selectfont, inner xsep=1pt, inner ysep=2.2pt, column sep=5.5pt,
    nodes={inner sep=2pt, text depth=16pt}},
  legend cell align=left,
  legend image code/.code={
    \path[draw=none, fill=none] (0pt,0pt) -- (22.7pt,0pt);
    \fill[black, fill opacity=1, draw opacity=1] (12.7pt,-0.75pt) circle[radius=2.2pt];
  },
]
\addplot[only marks, mark=*, mark size=2pt, black] table[x=x,y=y] {\sparsetop};
\addlegendentry{\begin{tabular}[t]{@{}l@{}}Samples\\\textit{μ} = 6359.75, \textit{σ} = 7.8\end{tabular}}
\addplot[only marks, mark=*, mark size=2pt, black, forget plot] table[x=x,y=y] {\densetop};
\addplot[only marks, mark=*, mark size=2pt, black, forget plot] table[x=x,y=y] {\densemid};
\addplot[only marks, mark=*, mark size=2pt, black, forget plot] table[x=x,y=y] {\denselow};
\addplot[only marks, mark=*, mark size=2pt, black, forget plot] table[x=x,y=y] {\densebot};
\addplot[only marks, mark=*, mark size=2pt, black, forget plot] table[x=x,y=y] {\sparsebot};
\end{axis}
\end{tikzpicture}
\end{document}
